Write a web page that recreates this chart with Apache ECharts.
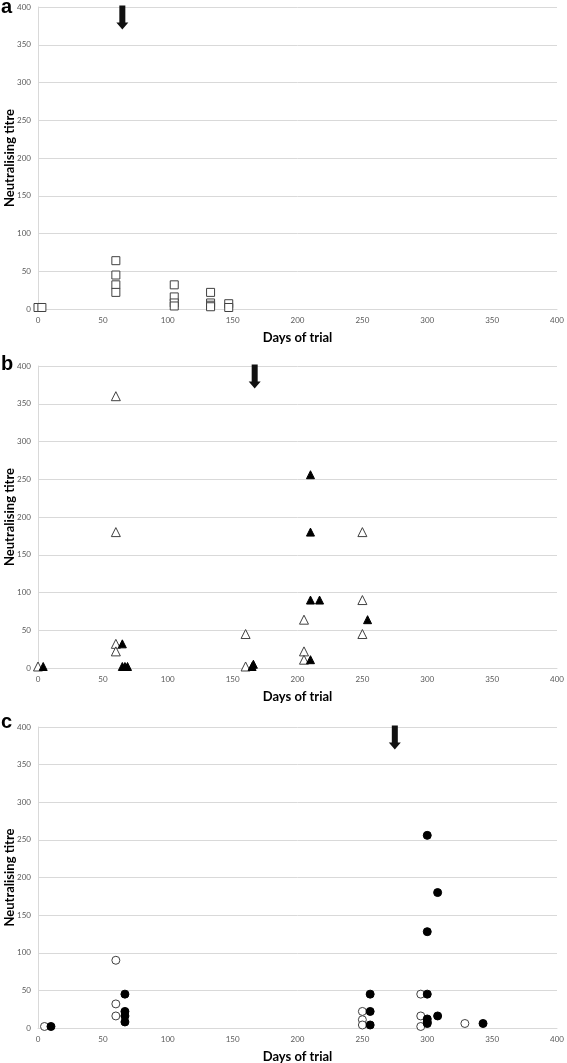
<!DOCTYPE html>
<html>
<head>
<meta charset="utf-8">
<script src="https://cdn.jsdelivr.net/npm/echarts@6/dist/echarts.min.js"></script>
<style>
html,body{margin:0;padding:0;background:#fff;}
#chart{width:567px;height:1063px;}
</style>
</head>
<body>
<div id="chart"></div>
<script>
// ---- data (day, titre) ----
var xTicks = [0, 50, 100, 150, 200, 250, 300, 350, 400];
var yTicks = [0, 50, 100, 150, 200, 250, 300, 350, 400];

// Panel a – open squares
var aOpenSquares = [[0,2],[3,2],[60,64],[60,45],[60,32],[60,22],[105,32],[105,16],[105,8],[105,4],[133,22],[133,8],[133,5],[133,3],[147,7],[147,2]];
var aArrowDay = [65];

// Panel b – open and filled triangles
var bOpenTriangles = [[0,2],[60,360],[60,180],[60,32],[60,22],[160,45],[160,2],[205,64],[205,22],[205,11],[250,180],[250,90],[250,45]];
var bFilledTriangles = [[4,2],[65,32],[65,2],[67,2],[69,2],[165,2],[166,5],[210,256],[210,180],[210,90],[217,90],[254,64],[210,11]];
var bArrowDay = [167];

// Panel c – open and filled circles
var cOpenCircles = [[5,2],[60,90],[60,32],[60,16],[250,22],[250,11],[250,4],[295,45],[295,16],[295,2],[329,6]];
var cFilledCircles = [[10,2],[67,45],[67,22],[67,16],[67,8],[256,45],[256,22],[256,4],[300,256],[300,128],[300,45],[300,12],[300,8],[300,6],[308,180],[308,16],[343,6]];
var cArrowDay = [275];

var arrowTop = 386;

var chart = echarts.init(document.getElementById('chart'), null, {renderer:'canvas'});

var grids = [
  {left:38, right:10, top:7, height:302, containLabel:false, outerBoundsMode:'none'},
  {left:38, right:10, top:366, height:302, containLabel:false, outerBoundsMode:'none'},
  {left:38, right:10, top:727, height:301, containLabel:false, outerBoundsMode:'none'}
];

var labelFont = 'Lato, "Open Sans", sans-serif';
function xAxis(i){
  return {
    gridIndex:i, type:'value', min:0, max:400, interval:50,
    name:'Days of trial', nameLocation:'middle', nameGap:22, nameMoveOverlap:false,
    nameTextStyle:{fontFamily:labelFont, fontWeight:'bold', fontSize:13, color:'#000'},
    axisLine:{show:true, lineStyle:{color:'#d9d9d9', width:1}},
    axisTick:{show:false},
    axisLabel:{fontFamily:labelFont, fontSize:8, color:'#595959', margin:7},
    splitLine:{show:false}
  };
}
function yAxis(i){
  return {
    gridIndex:i, type:'value', min:0, max:400, interval:50,
    name:'Neutralising titre', nameLocation:'middle', nameGap:22, nameRotate:90, nameMoveOverlap:false,
    nameTextStyle:{fontFamily:labelFont, fontWeight:'bold', fontSize:13, color:'#000'},
    axisLine:{show:true, lineStyle:{color:'#d9d9d9', width:1}},
    axisTick:{show:false},
    axisLabel:{fontFamily:labelFont, fontSize:8, color:'#595959', margin:7},
    splitLine:{show:true, lineStyle:{color:'#d9d9d9', width:1}}
  };
}

var arrowPath = 'path://M3,0 L9,0 L9,17 L12,17 L6,24 L0,17 L3,17 Z';
function arrowSeries(i, days){
  return {
    type:'scatter', xAxisIndex:i, yAxisIndex:i, clip:false, silent:true,
    symbol:arrowPath, symbolSize:[12,24],
    itemStyle:{color:'#111', opacity:1},
    data: days.map(function(d){ return [d, arrowTop]; })
  };
}
function openSeries(i, data, symbol, size){
  return {
    type:'scatter', xAxisIndex:i, yAxisIndex:i, clip:false,
    symbol:symbol, symbolSize:size,
    itemStyle:{color:'#fff', borderColor:'#404040', borderWidth:1, opacity:1},
    data:data
  };
}
function filledSeries(i, data, symbol, size){
  return {
    type:'scatter', xAxisIndex:i, yAxisIndex:i, clip:false,
    symbol:symbol, symbolSize:size,
    itemStyle:{color:'#000', borderColor:'#000', borderWidth:1, opacity:1},
    data:data
  };
}

var option = {
  backgroundColor:'#fff',
  animation:false,
  grid:grids,
  xAxis:[xAxis(0), xAxis(1), xAxis(2)],
  yAxis:[yAxis(0), yAxis(1), yAxis(2)],
  graphic:[
    {type:'text', left:1, top:-3, style:{text:'a', font:'bold 20px Arial, "Liberation Sans", sans-serif', fill:'#000'}},
    {type:'text', left:1, top:354, style:{text:'b', font:'bold 20px Arial, "Liberation Sans", sans-serif', fill:'#000'}},
    {type:'text', left:1, top:712, style:{text:'c', font:'bold 20px Arial, "Liberation Sans", sans-serif', fill:'#000'}}
  ],
  series:[
    openSeries(0, aOpenSquares, 'rect', 8),
    arrowSeries(0, aArrowDay),
    openSeries(1, bOpenTriangles, 'triangle', 9),
    filledSeries(1, bFilledTriangles, 'triangle', 8),
    arrowSeries(1, bArrowDay),
    openSeries(2, cOpenCircles, 'circle', 8),
    filledSeries(2, cFilledCircles, 'circle', 8),
    arrowSeries(2, cArrowDay)
  ]
};
chart.setOption(option);
</script>
</body>
</html>
